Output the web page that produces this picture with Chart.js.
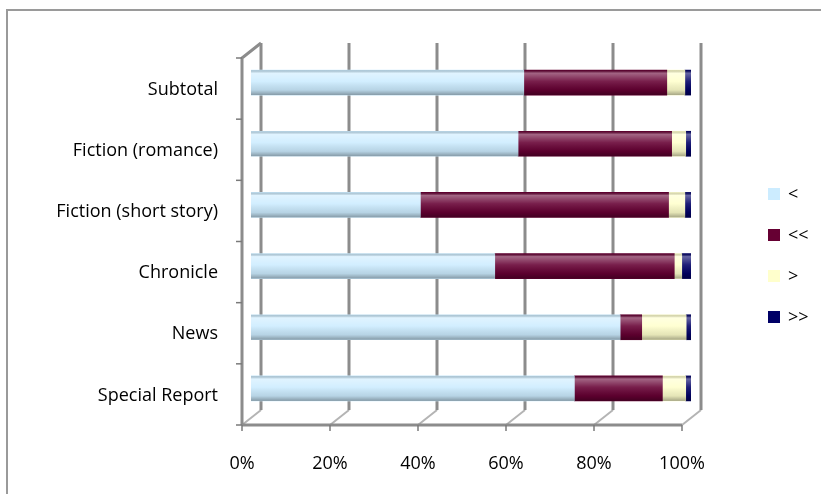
<!DOCTYPE html>
<html>
<head>
<meta charset="utf-8">
<script src="https://cdn.jsdelivr.net/npm/chart.js@4.4.1/dist/chart.umd.min.js"></script>
<style>
  html, body { margin: 0; padding: 0; background: #fff; }
  #wrap { width: 821px; height: 494px; }
</style>
</head>
<body>
<div id="wrap"><canvas id="grafico"></canvas></div>
<script>
// dados (percentual de cada categoria)
const categorias = ["Subtotal", "Fiction (romance)", "Fiction (short story)", "Chronicle", "News", "Special Report"];
const menor      = [62.0, 60.7, 38.5, 55.4, 83.9, 73.5];
const muitoMenor = [32.5, 34.9, 56.4, 40.8, 4.9, 20.0];
const maior      = [4.1, 3.2, 3.7, 1.7, 10.1, 5.3];
const muitoMaior = [1.4, 1.2, 1.4, 2.1, 1.1, 1.2];
const ticksX     = [0, 20, 40, 60, 80, 100];

const fonte = "'Open Sans', Lato, sans-serif";

// deslocamentos do efeito 3D (plano da frente / fundo)
const frente = { dx: -9, dy: 6 };
const fundo  = { dx: 10, dy: -9 };

// moldura, paredes e linhas de grade em "3D"
const paredes3d = {
    id: "paredes3d",
    beforeDraw(chart) {
        const ctx = chart.ctx;
        ctx.save();
        ctx.strokeStyle = "#9a9a9a";
        ctx.lineWidth = 2;
        ctx.strokeRect(7, 10, 840, 520);
        ctx.restore();
    },
    beforeDatasetsDraw(chart) {
        const ctx = chart.ctx;
        const { top, bottom, left, right } = chart.chartArea;
        const x = chart.scales.x;
        ctx.save();

        // linhas do chao (diagonais)
        ctx.strokeStyle = "#b4b4b4";
        ctx.lineWidth = 2;
        ticksX.forEach(v => {
            const px = x.getPixelForValue(v);
            ctx.beginPath();
            ctx.moveTo(px + frente.dx, bottom + frente.dy);
            ctx.lineTo(px + fundo.dx, bottom + fundo.dy);
            ctx.stroke();
        });

        // grade do fundo
        ctx.strokeStyle = "#8c8c8c";
        ctx.lineWidth = 3;
        ticksX.forEach(v => {
            const px = x.getPixelForValue(v) + fundo.dx;
            ctx.beginPath();
            ctx.moveTo(px, top + fundo.dy);
            ctx.lineTo(px, bottom + fundo.dy);
            ctx.stroke();
        });

        // parede esquerda
        const lx = left + frente.dx;
        ctx.beginPath();
        ctx.moveTo(lx, bottom + frente.dy);
        ctx.lineTo(lx, top + frente.dy);
        ctx.lineTo(left + fundo.dx, top + fundo.dy);
        ctx.stroke();

        // eixo de baixo
        ctx.beginPath();
        ctx.moveTo(lx, bottom + frente.dy);
        ctx.lineTo(right + frente.dx, bottom + frente.dy);
        ctx.stroke();

        // marcas
        ctx.lineWidth = 1.5;
        ctx.strokeStyle = "#7a7a7a";
        ticksX.forEach(v => {
            const px = x.getPixelForValue(v) + frente.dx;
            ctx.beginPath();
            ctx.moveTo(px, bottom + frente.dy);
            ctx.lineTo(px, bottom + frente.dy + 6);
            ctx.stroke();
        });
        const faixa = (bottom - top) / categorias.length;
        for (let i = 0; i <= categorias.length; i++) {
            const py = top + frente.dy + i * faixa;
            ctx.beginPath();
            ctx.moveTo(lx - 6, py);
            ctx.lineTo(lx, py);
            ctx.stroke();
        }
        ctx.restore();
    },
    afterDatasetsDraw(chart) {
        // sombreamento das barras
        const ctx = chart.ctx;
        ctx.save();
        chart.data.datasets.forEach((ds, i) => {
            chart.getDatasetMeta(i).data.forEach(bar => {
                const { x, y, base, height } = bar.getProps(["x", "y", "base", "height"], true);
                const t = y - height / 2;
                const g = ctx.createLinearGradient(0, t, 0, t + height);
                g.addColorStop(0, "rgba(0,0,0,0.15)");
                g.addColorStop(0.12, "rgba(255,255,255,0.4)");
                g.addColorStop(0.45, "rgba(255,255,255,0.12)");
                g.addColorStop(0.8, "rgba(0,0,0,0.1)");
                g.addColorStop(1, "rgba(0,0,0,0.35)");
                ctx.fillStyle = g;
                ctx.fillRect(Math.min(x, base), t, Math.abs(x - base), height);
            });
        });
        ctx.restore();
    },
    afterDraw(chart) {
        // legenda a direita
        const ctx = chart.ctx;
        ctx.save();
        ctx.font = "18px " + fonte;
        ctx.textBaseline = "middle";
        chart.data.datasets.forEach((ds, i) => {
            const y = 194 + i * 41;
            ctx.fillStyle = ds.backgroundColor;
            ctx.fillRect(768, y - 6, 12, 12);
            ctx.fillStyle = "#000";
            ctx.fillText(ds.label, 788, y + 1);
        });
        ctx.restore();
    }
};

const ctx = document.getElementById("grafico").getContext("2d");

new Chart(ctx, {
    type: "bar",
    data: {
        labels: categorias,
        datasets: [
            { label: "<",  data: menor,      backgroundColor: "#CCECFF" },
            { label: "<<", data: muitoMenor, backgroundColor: "#660033" },
            { label: ">",  data: maior,      backgroundColor: "#FFFFCC" },
            { label: ">>", data: muitoMaior, backgroundColor: "#000066" }
        ]
    },
    options: {
        indexAxis: "y",
        responsive: true,
        maintainAspectRatio: false,
        animation: false,
        datasets: { bar: { barThickness: 25, borderWidth: 0 } },
        layout: { padding: { left: 0, top: 52, right: 130, bottom: 0 } },
        plugins: {
            legend: { display: false },
            tooltip: { enabled: false }
        },
        scales: {
            x: {
                stacked: true,
                min: 0,
                max: 100,
                afterFit: s => { s.height = 75; },
                ticks: {
                    stepSize: 20,
                    labelOffset: frente.dx,
                    padding: 26,
                    color: "#000",
                    font: { family: fonte, size: 18 },
                    callback: v => v + "%"
                },
                grid: { display: false },
                border: { display: false }
            },
            y: {
                stacked: true,
                afterFit: s => { s.width = 251; },
                ticks: {
                    padding: 25,
                    labelOffset: 7,
                    color: "#000",
                    font: { family: fonte, size: 18 }
                },
                grid: { display: false },
                border: { display: false }
            }
        }
    },
    plugins: [paredes3d]
});
</script>
</body>
</html>
